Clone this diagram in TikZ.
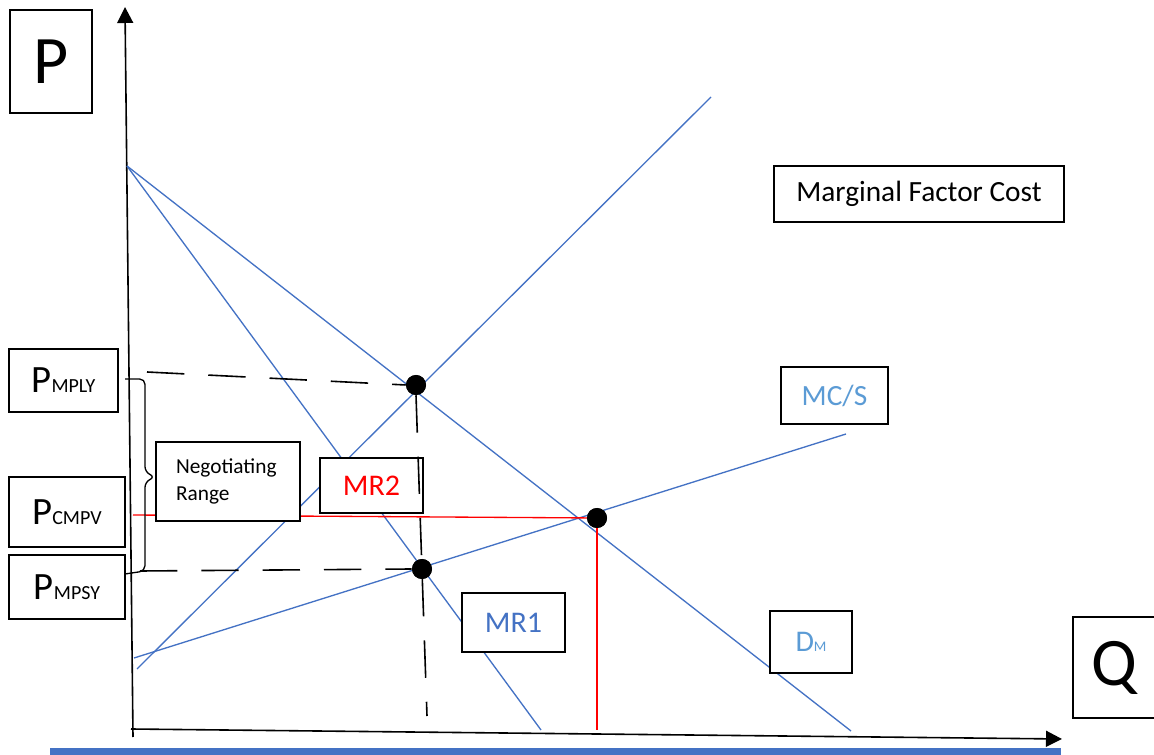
\documentclass[tikz,border=0pt]{standalone}
\usepackage{fontspec}
\setmainfont{Carlito}
\usetikzlibrary{arrows.meta}

\definecolor{lineblue}{HTML}{4472C4}
\definecolor{labelblue}{HTML}{5B9BD5}

\newcommand{\pricelabel}[1]{{\fontsize{29}{32}\selectfont P}{\fontsize{15}{17}\selectfont #1}}

\tikzset{
  axis/.style={line width=1.2pt, -{Triangle[length=12pt, width=12pt]}},
  curve/.style={lineblue, line width=1pt},
  redline/.style={red, line width=1pt},
  guide/.style={line width=1.2pt, dash pattern=on 28pt off 18pt},
  labelbox/.style={draw, fill=white, line width=1.5pt, inner sep=0pt},
  boxsize/.style 2 args={minimum width=#1*0.75pt, minimum height=#2*0.75pt},
  eqdot/.style={circle, fill=black, minimum size=15pt, inner sep=0pt},
}

\begin{document}
\begin{tikzpicture}[x=0.75pt, y=-0.75pt]
\useasboundingbox (0,0) rectangle (1154,755);

% Axes
\coordinate (ybot) at (133,737);
\coordinate (ytop) at (125,7);
\coordinate (xleft) at (131,729);
\coordinate (xright) at (1062,739);
\draw[axis] (ybot) -- (ytop);
\draw[axis] (xleft) -- (xright);
\fill[lineblue] (50,748) rectangle (1061,755);

% Curves
\coordinate (choke) at (127,166);
\coordinate (dend) at (851,731);
\coordinate (mrend) at (541,730);
\coordinate (mfcstart) at (137,669);
\coordinate (mfcend) at (711,97);
\coordinate (sstart) at (134,658);
\coordinate (send) at (846,434);
\draw[curve] (choke) -- (dend);
\draw[curve] (choke) -- (mrend);
\draw[curve] (mfcstart) -- (mfcend);
\draw[curve] (sstart) -- (send);

% Equilibrium points
\node[eqdot] (eqtop) at (416,385) {};
\node[eqdot] (eqlow) at (422,569) {};
\node[eqdot] (eqcomp) at (597,518) {};

% Competitive price and quantity
\coordinate (cmpvaxis) at (133,515);
\coordinate (cmpvq) at (597,730);
\draw[redline] (cmpvaxis) -- (eqcomp.center);
\draw[redline] (eqcomp.center) -- (cmpvq);

% Brace for the range
\draw[line width=1pt, rounded corners=4pt] (125,379) -- (145,379) -- (145,472) -- (155,477)
  -- (145,482) -- (145,571) -- (125,574);

% Labels
\node[labelbox, boxsize={82}{103}] (pbox) at (51,61.5) {\fontsize{51}{55}\selectfont P};
\node[labelbox, boxsize={83}{101}] (qbox) at (1114.5,667.5) {\fontsize{51}{55}\selectfont Q};
\node[labelbox, boxsize={109}{63}] (pmply) at (63.5,380.5) {\pricelabel{MPLY}};
\node[labelbox, boxsize={116}{70}] (pcmpv) at (67,512) {\pricelabel{CMPV}};
\node[labelbox, boxsize={116}{64}] (pmpsy) at (67,587) {\pricelabel{MPSY}};
\node[labelbox, boxsize={144}{79}, text width=78pt, align=left, inner xsep=15pt,
  font=\fontsize{16}{20}\selectfont] (negrange) at (228,481.5) {Negotiating\\Range};
\node[labelbox, boxsize={103}{55}, text=red, font=\fontsize{22.5}{25}\selectfont] (mrtwo) at (371.5,485.5) {MR2};
\node[labelbox, boxsize={103}{59}, text=lineblue, font=\fontsize{22.5}{25}\selectfont] (mrone) at (513.5,622.5) {MR1};
\node[labelbox, boxsize={82}{62}, text=labelblue] (dm) at (811,642)
  {{\fontsize{22.5}{25}\selectfont D}{\fontsize{11}{12}\selectfont M}};
\node[labelbox, boxsize={107}{57}, text=labelblue, font=\fontsize{22}{24}\selectfont] (mcs) at (834.5,395.5) {MC/S};
\node[labelbox, boxsize={290}{56}, font=\fontsize{22}{24}\selectfont] (mfc) at (919,194) {Marginal Factor Cost};

% Dashed guides
\coordinate (mplyaxis) at (147,372);
\coordinate (mpsyaxis) at (140,571);
\coordinate (mplyq) at (427,716);
\draw[guide] (mplyaxis) -- (eqtop.west);
\draw[guide] (mpsyaxis) -- (eqlow.west);
\draw[guide] (eqtop.south) -- (mplyq);

% Dots on top
\node[eqdot] at (eqtop) {};
\node[eqdot] at (eqlow) {};
\node[eqdot] at (eqcomp) {};
\end{tikzpicture}
\end{document}
